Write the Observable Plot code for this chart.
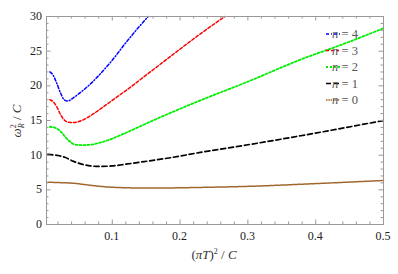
<!DOCTYPE html>
<html><head>
<meta charset="utf-8">
<script src="https://cdn.jsdelivr.net/npm/d3@7"></script>
<script src="https://cdn.jsdelivr.net/npm/@observablehq/plot@0.6"></script>
<style>body{margin:0;background:#fff}svg{display:block}</style>
</head><body><div id="chart"></div>
<script>
// ---- data ----
const n4X = [0.008,0.013,0.018,0.024,0.029,0.034,0.043,0.055,0.068,0.083,0.1,0.119,0.135,0.153];
const n4Y = [22.0,21.5,20.4,18.9,18.0,17.8,18.3,19.2,20.3,21.8,23.7,26.1,28.0,30.0];
const n3X = [0.008,0.013,0.018,0.024,0.03,0.036,0.043,0.055,0.068,0.083,0.1,0.117,0.156,0.2,0.23,0.266];
const n3Y = [18.0,17.7,17.0,15.8,15.0,14.75,14.7,15.0,15.7,16.7,17.9,19.1,22.0,25.3,27.5,30.0];
const n2X = [0.008,0.019,0.025,0.031,0.037,0.043,0.053,0.068,0.08,0.092,0.117,0.16,0.23,0.3,0.378,0.44,0.5];
const n2Y = [14.1,13.8,13.3,12.6,12.0,11.6,11.45,11.5,11.75,12.1,13.1,15.0,17.9,20.6,23.8,26.0,28.3];
const n1X = [0.005,0.02,0.03,0.043,0.055,0.068,0.08,0.1,0.12,0.142,0.19,0.23,0.3,0.378,0.44,0.5];
const n1Y = [10.1,9.95,9.7,9.1,8.7,8.45,8.37,8.45,8.7,9.0,9.7,10.4,11.5,12.8,13.9,15.0];
const n0X = [0.005,0.02,0.043,0.068,0.092,0.12,0.15,0.19,0.23,0.3,0.4,0.5];
const n0Y = [6.1,6.05,5.95,5.65,5.42,5.3,5.25,5.28,5.35,5.5,5.9,6.35];

const seriesN = ["4","3","2","1","0"];
const xMajor = [0.1,0.2,0.3,0.4,0.5];
const yMajor = [0,5,10,15,20,25,30];
const xMinorAll = [0.02,0.04,0.06,0.08,0.12,0.14,0.16,0.18,0.22,0.24,0.26,0.28,0.32,0.34,0.36,0.38,0.42,0.44,0.46,0.48];
const yMinorAll = [1,2,3,4,6,7,8,9,11,12,13,14,16,17,18,19,21,22,23,24,26,27,28,29];

// ---- styles ----
const styles = [
  {color:"#0000ff", dash:"3,2,1,2", w:1.5},
  {color:"#ff0000", dash:"3,2", w:1.5},
  {color:"#00ee00", dash:"2,2", w:1.8},
  {color:"#000000", dash:"5,3", w:1.7},
  {color:"#a0662e", dash:"1.5,0.8", w:1.5}
];
const xsList = [n4X,n3X,n2X,n1X,n0X];
const ysList = [n4Y,n3Y,n2Y,n1Y,n0Y];

const font = "'Liberation Serif', 'DejaVu Serif', serif";
const frameColor = "#999999";
const W = 398, H = 274, mL = 46, mR = 15, mT = 16, mB = 50;
const pw = W - mL - mR, ph = H - mT - mB;

const lineMarks = xsList.map((xs, i) => {
  const rows = xs.map((x, j) => ({x, y: ysList[i][j]}));
  return Plot.line(rows, {x:"x", y:"y", stroke: styles[i].color, strokeWidth: styles[i].w,
    strokeDasharray: styles[i].dash, curve:"monotone-x"});
});

const ticksX = (arr, len) => [
  Plot.tickX(arr, {x: d => d, insetTop: ph - len, stroke: frameColor}),
  Plot.tickX(arr, {x: d => d, insetBottom: ph - len, stroke: frameColor})
];
const ticksY = (arr, len) => [
  Plot.tickY(arr, {y: d => d, insetRight: pw - len, stroke: frameColor}),
  Plot.tickY(arr, {y: d => d, insetLeft: pw - len, stroke: frameColor})
];

const chart = Plot.plot({
  width: W, height: H,
  marginLeft: mL, marginRight: mR, marginTop: mT, marginBottom: mB,
  style: {fontFamily: font, fontSize: "12px"},
  x: {domain: [0.003, 0.5], axis: null},
  y: {domain: [0, 30], axis: null},
  marks: [
    ...lineMarks,
    Plot.frame({stroke: frameColor}),
    ...ticksX(xMajor, 4.5),
    ...ticksX(xMinorAll, 2.5),
    ...ticksY(yMajor, 4.5),
    ...ticksY(yMinorAll, 2.5)
  ]
});

const svg = d3.select(chart);
const sx = chart.scale("x"), sy = chart.scale("y");

// tick labels through the plot's scales
const tl = svg.append("g").attr("font-family", font).attr("font-size", 12).attr("fill", "#222");
xMajor.forEach(v => {
  tl.append("text").attr("x", sx.apply(v)).attr("y", mT + ph + 16).attr("text-anchor", "middle").text(String(v));
});
yMajor.forEach(v => {
  tl.append("text").attr("x", mL - 4).attr("y", sy.apply(v) + 4).attr("text-anchor", "end").text(v.toFixed(0));
});

// y label
const yl = svg.append("text").attr("transform","translate(21,121) rotate(-90)")
  .attr("text-anchor","middle").attr("font-family",font).attr("font-size",13).attr("fill","#333");
yl.append("tspan").attr("font-style","italic").text("ω");
yl.append("tspan").attr("font-size",8).attr("dy",-5).text("2");
yl.append("tspan").attr("font-size",8).attr("font-style","italic").attr("dx",-4).attr("dy",8).text("R");
yl.append("tspan").attr("dy",-3).text(" / ");
yl.append("tspan").attr("font-style","italic").text("C");

// x label
const xl = svg.append("text").attr("x",214).attr("y",259)
  .attr("text-anchor","middle").attr("font-family",font).attr("font-size",13).attr("fill","#333");
xl.append("tspan").text("(");
xl.append("tspan").attr("font-style","italic").text("π");
xl.append("tspan").attr("font-style","italic").text("T");
xl.append("tspan").text(")");
xl.append("tspan").attr("font-size",8).attr("dy",-5).text("2");
xl.append("tspan").attr("dy",5).text(" / ");
xl.append("tspan").attr("font-style","italic").text("C");

// legend
const lg = svg.append("g");
seriesN.forEach((n, i) => {
  const cy = 34 + i * 16.5;
  lg.append("line").attr("x1",326).attr("x2",340).attr("y1",cy).attr("y2",cy)
    .attr("stroke",styles[i].color).attr("stroke-width",styles[i].w).attr("stroke-dasharray",styles[i].dash);
  const t = lg.append("text").attr("x",345).attr("y",cy+4).attr("font-family",font)
    .attr("font-size",12.5).attr("fill","#555");
  t.append("tspan").attr("font-style","italic").text("n");
  t.append("tspan").text(" = " + n);
});

document.getElementById("chart").appendChild(chart);
</script>
</body></html>
